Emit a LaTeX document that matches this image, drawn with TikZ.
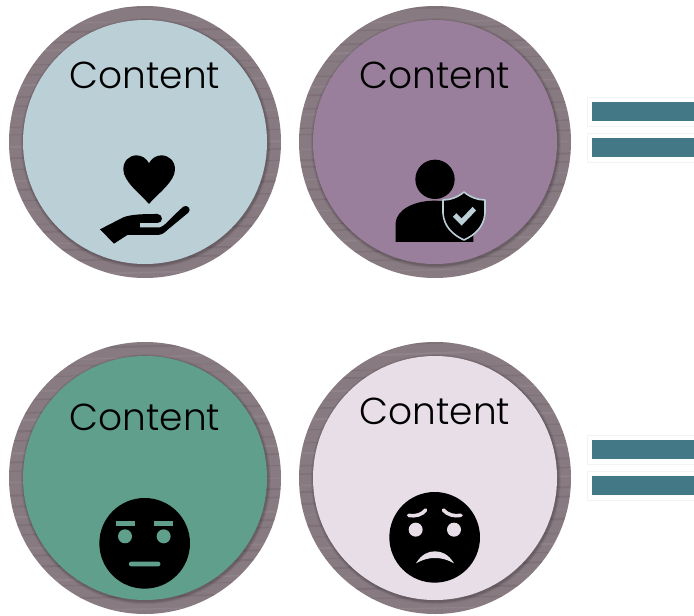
\documentclass[tikz,border=0pt]{standalone}
\usepackage{fontspec}
\setmainfont{Poppins Light}
\definecolor{wood}{HTML}{887A81}
\definecolor{woodD}{HTML}{6E5F67}
\definecolor{woodL}{HTML}{A0939A}
\definecolor{cblue}{HTML}{BBCFD7}
\definecolor{cpurple}{HTML}{9A7F9C}
\definecolor{cgreen}{HTML}{5F9F8B}
\definecolor{clilac}{HTML}{E8DEE8}
\definecolor{barc}{HTML}{437887}
\definecolor{panelb}{HTML}{F3F3F3}
\tikzset{
  disc/.style={circle,minimum size=244pt,inner sep=0pt,fill=#1},
  ringout/.style={circle,minimum size=272pt,inner sep=0pt,fill=wood},
  title/.style={font=\fontsize{37.5pt}{42pt}\selectfont,text=black,inner sep=0pt},
  barfill/.style={fill=barc,draw=none},
  panel/.style={fill=white,draw=panelb,line width=.6pt},
  icon/.style={x=.3333pt,y=-.3333pt}
}
\newcommand{\woodring}[3]{% name, x, y
  \node[ringout] (#1) at (#2,#3) {};
  \begin{scope}
    \clip (#2,#3) circle (136);
    \foreach \k in {0,...,26}{
      \pgfmathsetmacro{\yy}{#3-136+\k*10.5+rnd*5}
      \pgfmathsetmacro{\tilt}{-5+rnd*3}
      \pgfmathsetmacro{\wd}{.6+rnd*1.6}
      \pgfmathtruncatemacro{\pick}{mod(\k,3)}
      \ifnum\pick=0 \def\cc{woodD}\else\ifnum\pick=1 \def\cc{woodL}\else\def\cc{woodD}\fi\fi
      \draw[\cc,line width=\wd pt,opacity=.35] (#2-140,\yy-\tilt) -- (#2+140,\yy+\tilt);
    }
  \end{scope}
  \foreach \rr/\oo in {125/.06,124/.08,123/.1}{
    \fill[black,opacity=\oo] (#2+.8,#3+1.2) circle (\rr);
  }
}
\begin{document}
\begin{tikzpicture}[x=1pt,y=-1pt]
\pgfmathsetseed{42}
\useasboundingbox (0,0) rectangle (694,616);
\fill[white] (0,0) rectangle (694,616);

% rings and discs
\woodring{ra}{145}{142}
\node[disc=cblue] (da) at (145,142) {};
\woodring{rb}{435}{142}
\node[disc=cpurple] (db) at (435,142) {};
\woodring{rc}{145}{478}
\node[disc=cgreen] (dc) at (145,478) {};
\woodring{rd}{435}{478}
\node[disc=clilac] (dd) at (435,478) {};

% titles
\node[title] (ta) at (145,75) {Content};
\node[title] (tb) at (435,75) {Content};
\node[title] (tc) at (145,417) {Content};
\node[title] (td) at (435,411) {Content};

% bars
\foreach \n/\y in {a/97,b/133,c/435,d/471}{
  \fill[panel] (587,\y) rectangle (700,\y+29);
  \fill[barfill] (592,\y+5) rectangle (694,\y+24);
}

% heart and hand
\begin{scope}[shift={(90,140)},icon]
  \fill[black] (177,192) .. controls (150,160) and (100,125) .. (100,88)
    .. controls (100,62) and (118,46) .. (140,46)
    .. controls (156,46) and (170,56) .. (177,70)
    .. controls (184,56) and (198,46) .. (214,46)
    .. controls (236,46) and (255,62) .. (255,88)
    .. controls (255,125) and (204,160) .. (177,192) -- cycle;
  \fill[black] (30,268) -- (100,232) .. controls (125,222) and (170,222) .. (203,222)
    .. controls (220,224) and (220,248) .. (203,249)
    -- (150,249) -- (150,262) -- (210,262)
    .. controls (225,258) and (235,240) .. (280,200)
    .. controls (292,192) and (306,208) .. (295,218)
    -- (232,270)
    .. controls (222,280) and (215,285) .. (200,285)
    -- (112,285) -- (72,311) -- cycle;
\end{scope}

% person with shield
\begin{scope}[shift={(380,150)},icon]
  \fill[black] (165,88) circle (59);
  \fill[black] (47,276) -- (47,218) .. controls (50,180) and (100,152) .. (165,152)
    .. controls (210,152) and (250,165) .. (280,200) -- (280,276) -- cycle;
  \filldraw[fill=black,draw=cblue,line width=1.6pt,line join=round]
    (252,126) .. controls (270,142) and (295,150) .. (315,150)
    -- (315,190) .. controls (312,230) and (285,255) .. (252,270)
    .. controls (219,255) and (192,230) .. (189,190)
    -- (189,150) .. controls (209,150) and (234,142) .. (252,126) -- cycle;
  \draw[cblue,line width=5pt] (224,195) -- (245,216) -- (283,176);
\end{scope}

% neutral face
\begin{scope}[shift={(90,490)},icon]
  \fill[black] (164,160) circle (136);
  \fill[cgreen] (78,93) rectangle (134,107);
  \fill[cgreen] (193,93) rectangle (250,107);
  \fill[cgreen] (105,139) circle (21);
  \fill[cgreen] (221,139) circle (21);
  \fill[cgreen,rounded corners=2pt] (117,215) rectangle (211,229);
\end{scope}

% worried face
\begin{scope}[shift={(380,480)},icon]
  \fill[black] (164,172) circle (136);
  \fill[clilac] (107,149) circle (21);
  \fill[clilac] (222,149) circle (21);
  \draw[clilac,line width=3.6pt,line cap=round] (86,106) .. controls (108,110) and (126,104) .. (137,90);
  \draw[clilac,line width=3.6pt,line cap=round] (190,90) .. controls (202,104) and (222,110) .. (243,106);
  \fill[clilac] (108,250) .. controls (125,222) and (145,214) .. (165,214)
    .. controls (185,214) and (205,222) .. (222,250)
    .. controls (200,238) and (185,234) .. (165,234)
    .. controls (145,234) and (130,238) .. (108,250) -- cycle;
\end{scope}
\end{tikzpicture}
\end{document}
